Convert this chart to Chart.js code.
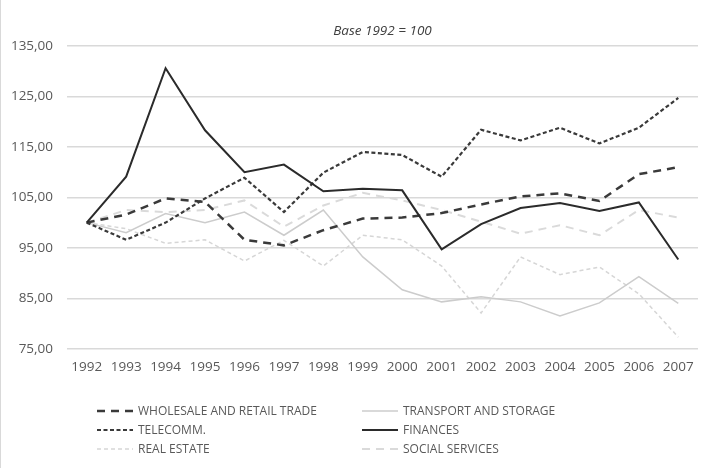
<!DOCTYPE html>
<html>
<head>
<meta charset="utf-8">
<script src="https://cdn.jsdelivr.net/npm/chart.js@4.4.1/dist/chart.umd.min.js"></script>
<style>
    body { margin: 0; background: #fff; }
    #wrap { width: 723px; height: 468px; position: relative; border-left: 1px solid #d9d9d9; box-sizing: border-box; }
</style>
</head>
<body>
<div id="wrap"><canvas id="chart01" width="722" height="468"></canvas></div>
<script>
const years = ['1992', '1993', '1994', '1995', '1996', '1997', '1998', '1999', '2000', '2001', '2002', '2003', '2004', '2005', '2006', '2007'];
const wholesale = [100, 101.6, 104.8, 104.1, 96.6, 95.5, 98.5, 100.8, 101.0, 101.9, 103.6, 105.2, 105.8, 104.3, 109.6, 111.0];
const transport = [100, 98.0, 101.8, 100.0, 102.1, 97.5, 102.5, 93.2, 86.7, 84.3, 85.3, 84.3, 81.5, 84.1, 89.3, 84.0];
const telecomm = [100, 96.6, 100.0, 104.8, 108.9, 102.1, 109.9, 114.0, 113.4, 109.1, 118.4, 116.3, 118.8, 115.7, 118.8, 124.7];
const finances = [100, 109.1, 130.6, 118.3, 110.0, 111.5, 106.2, 106.7, 106.4, 94.7, 99.7, 102.9, 103.9, 102.3, 104.0, 92.7];
const realEstate = [100, 98.8, 95.9, 96.6, 92.4, 96.5, 91.4, 97.5, 96.6, 91.4, 82.1, 93.2, 89.7, 91.2, 85.9, 77.3];
const socialServices = [100, 102.5, 102.1, 102.5, 104.4, 99.2, 103.4, 105.9, 104.4, 102.5, 100.2, 97.8, 99.5, 97.5, 102.5, 101.0];
const yMin = 75, yMax = 135, yStep = 10;
const chartTitle = 'Base 1992 = 100';

function serie(label, data, color, width, dash, order) {
    return {
        label: label,
        data: data,
        borderColor: color,
        backgroundColor: color,
        borderWidth: width,
        borderDash: dash,
        pointRadius: 0,
        tension: 0,
        fill: false,
        order: order
    };
}

// legend in two columns, drawn under the axis like in the excel sheet
const legendPos = [
    { x: 96, y: 411 }, { x: 361, y: 411 },
    { x: 96, y: 430 }, { x: 361, y: 430 },
    { x: 96, y: 449 }, { x: 361, y: 449 }
];
const extrasPlugin = {
    id: 'extras',
    afterDraw(chart) {
        const ctx = chart.ctx;
        const area = chart.chartArea;
        // title centred over the plot area
        ctx.save();
        ctx.fillStyle = '#404040';
        ctx.font = 'italic 13.5px "Open Sans"';
        ctx.textAlign = 'center';
        ctx.textBaseline = 'middle';
        ctx.fillText(chartTitle, (area.left + area.right) / 2, 31);
        ctx.restore();

        chart.data.datasets.forEach((ds, i) => {
            const p = legendPos[i];
            ctx.save();
            ctx.strokeStyle = ds.borderColor;
            ctx.lineWidth = ds.borderWidth;
            ctx.setLineDash(ds.borderDash);
            ctx.beginPath();
            ctx.moveTo(p.x, p.y);
            ctx.lineTo(p.x + 36, p.y);
            ctx.stroke();
            ctx.setLineDash([]);
            ctx.fillStyle = '#595959';
            ctx.font = '12px "Open Sans"';
            ctx.textBaseline = 'middle';
            ctx.fillText(ds.label, p.x + 41, p.y + 1);
            ctx.restore();
        });
    }
};

const ctx01 = document.getElementById('chart01');
const mainChart = new Chart(ctx01, {
    type: 'line',
    data: {
        labels: years,
        datasets: [
            serie('WHOLESALE AND RETAIL TRADE', wholesale, '#3a3a3a', 2.5, [8, 6], 2),
            serie('TRANSPORT AND STORAGE', transport, '#cccccc', 1.5, [], 3),
            serie('TELECOMM.', telecomm, '#3a3a3a', 2.2, [4, 2.5], 1),
            serie('FINANCES', finances, '#2b2b2b', 2, [], 0),
            serie('REAL ESTATE', realEstate, '#d6d6d6', 1.5, [4, 3], 4),
            serie('SOCIAL SERVICES', socialServices, '#dadada', 2, [8, 6], 5)
        ]
    },
    plugins: [extrasPlugin],
    options: {
        responsive: false,
        animation: false,
        layout: { padding: { top: 46, left: 11, right: 25, bottom: 83 } },
        plugins: {
            legend: { display: false },
            tooltip: { enabled: false },
            title: { display: false }
        },
        scales: {
            x: {
                offset: true,
                grid: { display: false, drawTicks: false },
                border: { display: false },
                ticks: { color: '#595959', padding: 10, maxRotation: 0, autoSkip: false, font: { family: '"Open Sans"', size: 13.5 } }
            },
            y: {
                min: yMin,
                max: yMax,
                afterFit: (scale) => { scale.width = 55; },
                grid: { color: '#d9d9d9', lineWidth: 1.5, drawTicks: false },
                border: { display: false },
                ticks: {
                    stepSize: yStep,
                    color: '#595959',
                    padding: 14,
                    font: { family: '"Open Sans"', size: 13.5 },
                    callback: (v) => v.toFixed(2).replace('.', ',')
                }
            }
        }
    }
});
</script>
</body>
</html>
